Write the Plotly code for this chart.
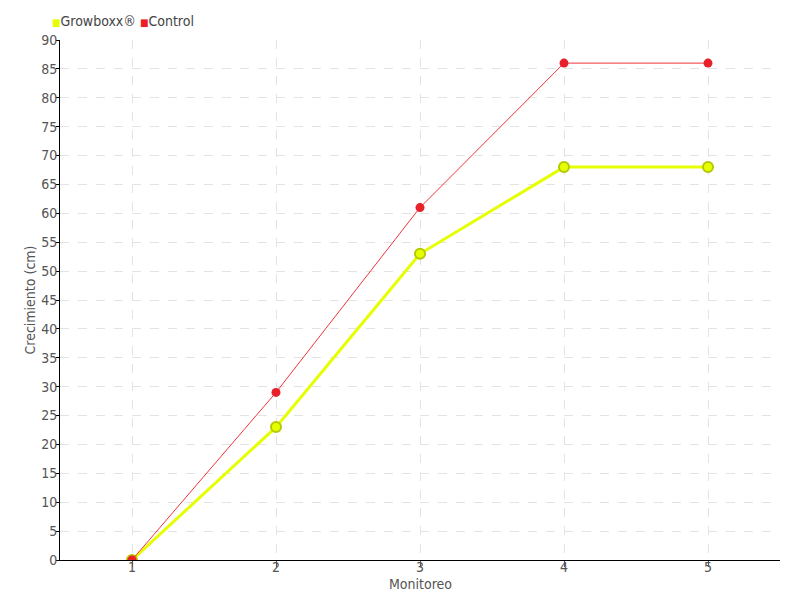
import plotly.graph_objects as go

monitoreo = [1, 2, 3, 4, 5]
growboxx = [0, 23, 53, 68, 68]
control = [0, 29, 61, 86, 86]

font_fam = "DejaVu Sans Condensed, Liberation Sans Narrow, sans-serif"

fig = go.Figure()

fig.add_trace(go.Scatter(x=monitoreo, y=growboxx, mode='lines+markers', name='Growboxx®',
                         line=dict(color='#e6ff00', width=3),
                         marker=dict(size=10, color='#e6ff00', line=dict(color='#b5c800', width=2))))
fig.add_trace(go.Scatter(x=monitoreo, y=control, mode='lines+markers', name='Control',
                         line=dict(color='#f0343c', width=1),
                         marker=dict(size=9, color='#e8202a')))

# leyenda como texto con cuadrados de color
leyenda = ("<span style='color:#e6ff00;font-size:10px'>■</span>Growboxx® "
           "<span style='color:#ee1c25;font-size:10px'>■</span>Control")
fig.add_annotation(text=leyenda, xref='paper', yref='paper', x=-0.0139, y=1.0365,
                   xanchor='left', yanchor='middle', showarrow=False,
                   font=dict(size=14, color='#444444'))
fig.add_annotation(text='Monitoreo', xref='paper', yref='paper', x=0.5, y=-0.046,
                   xanchor='center', yanchor='middle', showarrow=False,
                   font=dict(size=14, color='#555555'))

fig.update_layout(
    width=800, height=600,
    margin=dict(l=52, r=28, t=32, b=48),
    plot_bgcolor='white', paper_bgcolor='white',
    font=dict(family=font_fam, size=14, color='#555555'),
    showlegend=False,
)
fig.update_xaxes(range=[0.5, 5.5], tickvals=monitoreo, showline=True, linecolor='black',
                 linewidth=1, ticks='outside', ticklen=6, tickcolor='#555555',
                 tickfont=dict(size=14), automargin=False, ticklabelstandoff=-12,
                 showgrid=True, gridcolor='#e3e3e3', griddash='dash', zeroline=False)
fig.update_yaxes(range=[0, 90], dtick=5, showline=True, linecolor='black', linewidth=1,
                 ticks='outside', ticklen=3, tickcolor='black', automargin=False,
                 tickfont=dict(size=14), ticklabelstandoff=-4,
                 showgrid=True, gridcolor='#e3e3e3', griddash='dash', zeroline=False,
                 title=dict(text='Crecimiento (cm)', standoff=2, font=dict(size=14, color='#555555')))

fig.write_html("out.html")
